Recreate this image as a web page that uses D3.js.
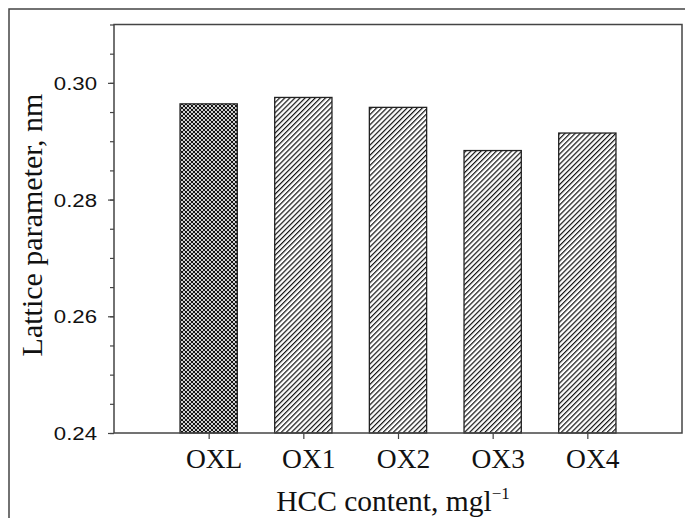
<!DOCTYPE html>
<html>
<head>
<meta charset="utf-8">
<script src="https://cdn.jsdelivr.net/npm/d3@7"></script>
<style>
  body { margin: 0; background: #fff; }
  svg { display: block; }
</style>
</head>
<body>
<div id="chart"></div>
<script>
// data
const categories = ["OXL", "OX1", "OX2", "OX3", "OX4"];
const latticeValues = [0.2964, 0.2975, 0.2958, 0.2884, 0.2914];
const barPatterns = ["cross", "diag", "diag", "diag", "diag"];
const yMajorTicks = [0.24, 0.26, 0.28, 0.30];
const yMinorTicks = d3.range(0, 15).map(i => +(0.24 + i * 0.005).toFixed(3));

const width = 685, height = 518;
const margin = {left: 114, top: 24.5, right: 3, bottom: 85};

const svg = d3.select("#chart").append("svg")
    .attr("width", width)
    .attr("height", height);

const defs = svg.append("defs");

// diagonal hatching ////
const diag = defs.append("pattern")
    .attr("id", "diag")
    .attr("patternUnits", "userSpaceOnUse")
    .attr("width", 3.6).attr("height", 3.6)
    .attr("patternTransform", "rotate(45)");
diag.append("rect").attr("width", 3.6).attr("height", 3.6).attr("fill", "#fff");
diag.append("line")
    .attr("x1", 0).attr("y1", 0).attr("x2", 0).attr("y2", 3.6)
    .attr("stroke", "#111").attr("stroke-width", 2.4);

// cross hatching
const cross = defs.append("pattern")
    .attr("id", "cross")
    .attr("patternUnits", "userSpaceOnUse")
    .attr("width", 4).attr("height", 4);
cross.append("rect").attr("width", 4).attr("height", 4).attr("fill", "#111");
[[2, 2], [0, 0], [4, 0], [0, 4], [4, 4]].forEach(([cx, cy]) => {
    cross.append("circle").attr("cx", cx).attr("cy", cy).attr("r", 1.1).attr("fill", "#fff");
});

// outer frame (runs past the right and bottom edges)
svg.append("rect")
    .attr("x", 9).attr("y", 9)
    .attr("width", width + 20).attr("height", height + 20)
    .attr("fill", "none")
    .attr("stroke", "#444")
    .attr("stroke-width", 1.5);

const x = d3.scalePoint()
    .domain(categories)
    .range([margin.left, width - margin.right])
    .padding(1);

const y = d3.scaleLinear()
    .domain([0.24, 0.31])
    .range([height - margin.bottom, margin.top]);

const barWidth = x.step() * 0.605;

// bars
svg.append("g")
    .selectAll("rect")
    .data(categories)
    .join("rect")
    .attr("x", d => x(d) - barWidth / 2)
    .attr("y", (d, i) => y(latticeValues[i]))
    .attr("width", barWidth)
    .attr("height", (d, i) => y(0.24) - y(latticeValues[i]))
    .attr("fill", (d, i) => `url(#${barPatterns[i]})`)
    .attr("stroke", "#222")
    .attr("stroke-width", 1.3);

// plot frame
svg.append("rect")
    .attr("x", margin.left).attr("y", margin.top)
    .attr("width", width - margin.right - margin.left)
    .attr("height", y(0.24) - margin.top)
    .attr("fill", "none")
    .attr("stroke", "#444")
    .attr("stroke-width", 1.5);

// y axis
const yAxis = svg.append("g")
    .attr("transform", `translate(${margin.left},0)`)
    .call(d3.axisLeft(y).tickValues(yMinorTicks).tickSize(4).tickFormat(""));
yAxis.select(".domain").remove();
yAxis.selectAll("line").attr("stroke", "#444").attr("stroke-width", 1.2);

const yMajor = svg.append("g")
    .attr("transform", `translate(${margin.left},0)`)
    .call(d3.axisLeft(y).tickValues(yMajorTicks).tickSize(6).tickFormat(d3.format(".2f")));
yMajor.select(".domain").remove();
yMajor.selectAll("line").attr("stroke", "#444").attr("stroke-width", 1.2);
// labels in the figure are a wide sans; stretch horizontally from the right end
yMajor.selectAll("text")
    .attr("x", 0)
    .attr("dy", "0.36em")
    .attr("transform", "translate(-17,0) scale(1.2,1)")
    .attr("font-family", "Liberation Sans, Arial, sans-serif")
    .attr("font-size", 18.5)
    .attr("fill", "#111");

// x axis
const xAxis = svg.append("g")
    .attr("transform", `translate(0,${y(0.24)})`)
    .call(d3.axisBottom(x).tickSize(6).tickPadding(8));
xAxis.select(".domain").remove();
xAxis.selectAll("line").attr("stroke", "#444").attr("stroke-width", 1.2);
xAxis.selectAll("text")
    .attr("font-family", "Liberation Serif, Times New Roman, serif")
    .attr("font-size", 27.5)
    .attr("fill", "#111")
    .attr("dx", 5)
    .attr("dy", "0.75em");

// axis titles
const xTitle = svg.append("text")
    .attr("x", 393)
    .attr("y", 511)
    .attr("text-anchor", "middle")
    .attr("font-family", "Liberation Serif, Times New Roman, serif")
    .attr("font-size", 29.5)
    .attr("fill", "#111");
xTitle.append("tspan").text("HCC content, mgl");
xTitle.append("tspan").attr("font-size", 17).attr("dy", -12).text("\u22121");

svg.append("text")
    .attr("transform", `translate(42,${(92 + 358) / 2}) rotate(-90)`)
    .attr("text-anchor", "middle")
    .attr("font-family", "Liberation Serif, Times New Roman, serif")
    .attr("font-size", 30)
    .attr("fill", "#111")
    .text("Lattice parameter, nm");
</script>
</body>
</html>
